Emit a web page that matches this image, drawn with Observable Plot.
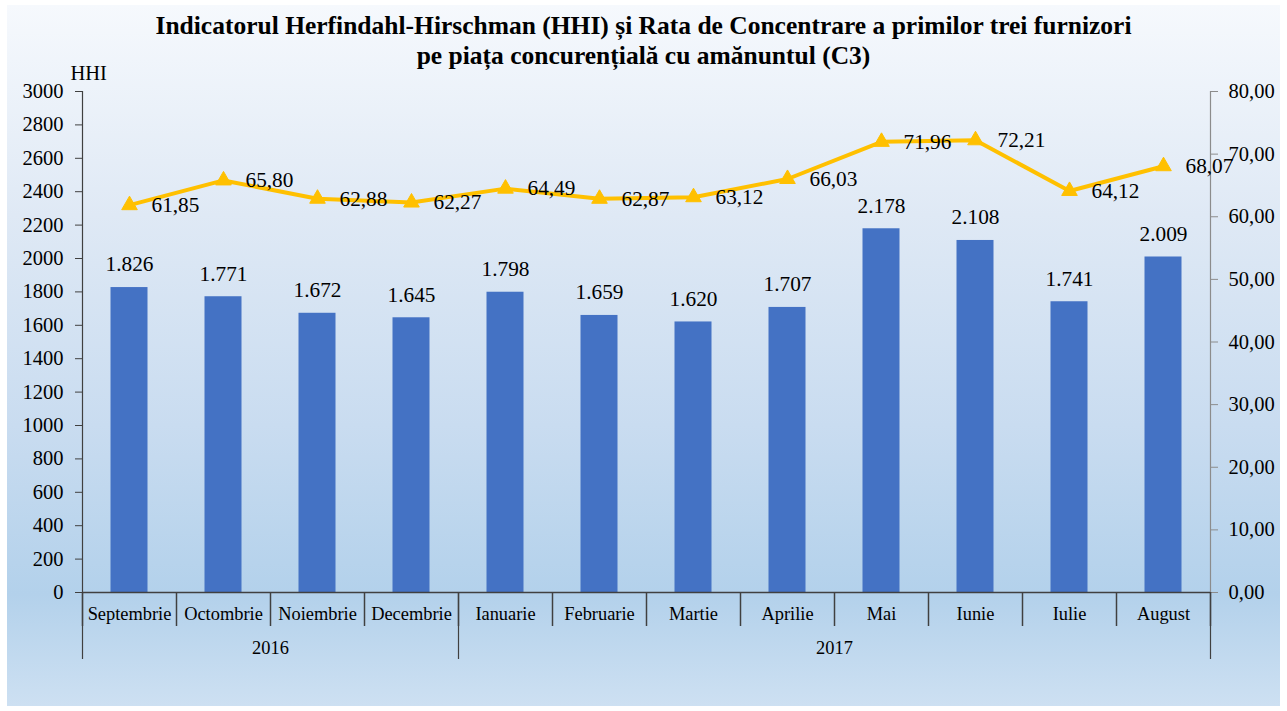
<!DOCTYPE html>
<html>
<head>
<meta charset="utf-8">
<script src="https://cdn.jsdelivr.net/npm/d3@7"></script>
<script src="https://cdn.jsdelivr.net/npm/@observablehq/plot@0.6"></script>
<style>
  html, body { margin: 0; padding: 0; background: #ffffff; }
  #wrap {
    position: absolute; left: 7px; top: 5px; width: 1273px; height: 701px;
    background: linear-gradient(to bottom, #f6f9fd 0%, #dfe9f5 30%, #c9dcf0 60%, #b3d1eb 84%, #cde0f2 100%);
    font-family: "Liberation Serif", "DejaVu Serif", serif;
    color: #000;
  }
  #title {
    position: absolute; left: 0; top: 6px; width: 1273px; text-align: center;
    font-weight: bold; font-size: 25.5px; line-height: 30px;
    font-family: "Liberation Serif", "DejaVu Serif", serif;
  }
  #chart { position: absolute; left: 0; top: 65px; }
  #chart svg text { font-family: "Liberation Serif", "DejaVu Serif", serif; }
</style>
</head>
<body>
<div id="wrap">
  <div id="title">Indicatorul Herfindahl-Hirschman (HHI) și Rata de Concentrare a primilor trei furnizori<br>pe piața concurențială cu amănuntul (C3)</div>
  <div id="chart"></div>
</div>
<script>
const months = ["Septembrie","Octombrie","Noiembrie","Decembrie","Ianuarie","Februarie","Martie","Aprilie","Mai","Iunie","Iulie","August"];
const years = ["2016","2017"];
const yearStart = [0, 4];
const yearEnd = [4, 12];
const hhi = [1826,1771,1672,1645,1798,1659,1620,1707,2178,2108,1741,2009];
const c3 = [61.85,65.80,62.88,62.27,64.49,62.87,63.12,66.03,71.96,72.21,64.12,68.07];
const leftTicks = d3.range(0, 3001, 200);
const rightTicks = [0,10,20,30,40,50,60,70,80];
const leftMax = 3000, rightMax = 80;
const k = leftMax / rightMax;

const data = months.map((m, i) => ({i, m, hhi: hhi[i], c3: c3[i], c3s: c3[i] * k}));
const yearData = years.map((y, j) => ({y, s: yearStart[j], e: yearEnd[j]}));
const fmtHHI = d3.formatLocale({decimal: ",", thousands: ".", grouping: [3]}).format(",d");
const fmtC3 = v => v.toFixed(2).replace(".", ",");
const FONT = "Liberation Serif, DejaVu Serif, serif";

const plot = Plot.plot({
  width: 1273,
  height: 636,
  marginLeft: 75,
  marginRight: 70,
  marginTop: 21,
  marginBottom: 114,
  style: {background: "transparent", fontFamily: FONT, fontSize: "20px", color: "#000", overflow: "visible"},
  x: {domain: [0, months.length], axis: null},
  y: {domain: [0, leftMax], axis: null},
  marks: [
    Plot.rectY(data, {x1: d => d.i, x2: d => d.i + 1, y: "hhi", fill: "#4472C4", insetLeft: 28.5, insetRight: 28.5}),
    // left axis
    Plot.axisY({ticks: leftTicks, tickSize: 7, tickPadding: 12, stroke: "#404040", fill: "#000", fontSize: 20.5, fontFamily: FONT, tickFormat: d => String(d)}),
    Plot.ruleX([0], {stroke: "#404040", strokeWidth: 1.2}),
    // right axis
    Plot.axisY({anchor: "right", ticks: rightTicks.map(v => v * k), tickSize: 7, tickPadding: 11, stroke: "#8c8c8c", fill: "#000", fontSize: 20.5, fontFamily: FONT, tickFormat: d => fmtC3(d / k)}),
    Plot.ruleX([months.length], {stroke: "#8c8c8c", strokeWidth: 1.2}),
    // x axis baseline
    Plot.ruleY([0], {stroke: "#404040", strokeWidth: 1.5}),
    // month separators
    Plot.axisX({ticks: d3.range(0, months.length + 1), tickSize: 34, stroke: "#404040", strokeWidth: 1.5, tickFormat: () => ""}),
    // year separators
    Plot.axisX({ticks: [0, ...yearEnd], tickSize: 67, stroke: "#404040", strokeWidth: 1.2, tickFormat: () => ""}),
    // month labels
    Plot.text(data, {x: d => d.i + 0.5, text: "m", frameAnchor: "bottom", dy: 22, lineAnchor: "middle", fontSize: 18.4, fontFamily: FONT}),
    // year labels
    Plot.text(yearData, {x: d => (d.s + d.e) / 2, text: "y", frameAnchor: "bottom", dy: 56, lineAnchor: "middle", fontSize: 18.4, fontFamily: FONT}),
    // HHI axis label
    Plot.text(["HHI"], {frameAnchor: "top-left", dx: -12, dy: -18, textAnchor: "start", lineAnchor: "middle", fontSize: 20.5, fontFamily: FONT}),
    // bar labels
    Plot.text(data, {x: d => d.i + 0.5, y: "hhi", text: d => fmtHHI(d.hhi), dy: -23, lineAnchor: "middle", fontSize: 21.3, fontFamily: FONT}),
    // C3 line
    Plot.line(data, {x: d => d.i + 0.5, y: "c3s", stroke: "#FFC000", strokeWidth: 4}),
    Plot.dot(data, {x: d => d.i + 0.5, y: "c3s", symbol: "triangle", r: 5.8, fill: "#FFC000", stroke: "#FFC000", strokeWidth: 1}),
    Plot.text(data, {x: d => d.i + 0.5, y: "c3s", text: d => fmtC3(d.c3), dx: 22, textAnchor: "start", lineAnchor: "middle", fontSize: 21.3, fontFamily: FONT})
  ]
});
document.getElementById("chart").appendChild(plot);
</script>
</body>
</html>
